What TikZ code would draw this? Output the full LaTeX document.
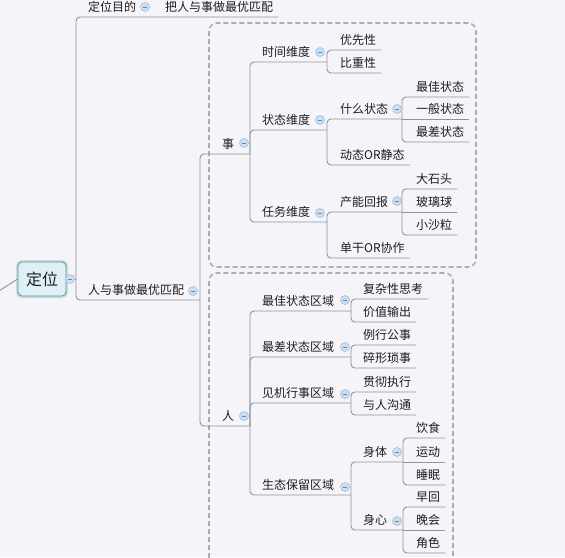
\documentclass[tikz,border=0pt]{standalone}
\usepackage{fontspec}
\setmainfont{Noto Sans CJK SC}
\usetikzlibrary{calc}

\definecolor{paper}{RGB}{245,245,249}
\definecolor{ink}{RGB}{30,30,30}
\definecolor{linegray}{RGB}{145,145,152}
\definecolor{boxgray}{RGB}{172,172,180}
\definecolor{foldfill}{RGB}{205,222,240}
\definecolor{foldline}{RGB}{160,190,222}
\definecolor{foldmark}{RGB}{95,135,190}
\definecolor{rootfill}{RGB}{222,240,246}
\definecolor{rootline}{RGB}{110,140,150}
\definecolor{rootglow}{RGB}{196,220,228}

\begin{document}
\begin{tikzpicture}[
  x=1pt, y=-1pt,
  font=\fontsize{12}{14}\selectfont,
  topic/.style={anchor=south west, inner sep=0pt,
    text height=10pt, text depth=5.5pt, text=ink},
  rootbox/.style={rectangle, rounded corners=4pt,
    draw=rootline, fill=rootfill, line width=0.8pt,
    preaction={draw=rootglow, line width=4pt},
    minimum width=48pt, minimum height=34pt,
    font=\fontsize{16}{18}\selectfont, text=ink},
  link/.style={draw=linegray, line width=0.9pt, rounded corners=4pt},
  fold/.style={circle, draw=foldline, fill=foldfill, line width=0.6pt,
    minimum size=9pt, inner sep=0pt,
    path picture={\draw[foldmark, line width=0.9pt]
      ([xshift=-2.4pt]path picture bounding box.center) --
      ([xshift=2.4pt]path picture bounding box.center);}},
  boundary/.style={draw=boxgray, line width=1.6pt,
    dash pattern=on 5pt off 3pt, rounded corners=8pt}
]

\fill[paper] (0,0) rectangle (565,557);
\useasboundingbox (0,0) rectangle (565,557);

% boundaries
\draw[boundary] (209,23) rectangle (476,267);
\draw[boundary] (209,273) rectangle (453,580);

% root
\node[rootbox] (dingwei) at (42,279) {定位};
\coordinate (offleft) at (-1,291);

% branch points
\coordinate (dingwei-t) at (76,279);
\coordinate (mubiao-t) at (155,17);
\coordinate (renshi-t) at (200,300);
\coordinate (shi-t) at (250,154);
\coordinate (ren-t) at (250,426);
\coordinate (shijian-t) at (327,62);
\coordinate (zhuangtai-t) at (327,130);
\coordinate (shenme-t) at (402,119);
\coordinate (renwu-t) at (327,222);
\coordinate (channeng-t) at (402,212);
\coordinate (zuijia-t) at (351,311);
\coordinate (zuicha-t) at (351,357);
\coordinate (jianji-t) at (351,403);
\coordinate (shengtai-t) at (351,495);
\coordinate (shenti-t) at (403,462);
\coordinate (shenxin-t) at (403,530);

% topics
\node[topic] (mubiao) at (88,17) {定位目的};
\node[topic] (pipei) at (165,17) {把人与事做最优匹配};
\node[topic] (renshi) at (88,300) {人与事做最优匹配};
\node[topic] (shi) at (222,154) {事};
\node[topic] (ren) at (222,426) {人};

\node[topic] (shijian) at (262,62) {时间维度};
\node[topic] (youxian) at (340,50) {优先性};
\node[topic] (bizhong) at (340,73) {比重性};
\node[topic] (zhuangtai) at (262,130) {状态维度};
\node[topic] (shenme) at (340,119) {什么状态};
\node[topic] (zuijiazt) at (416,97) {最佳状态};
\node[topic] (yiban) at (416,119) {一般状态};
\node[topic] (zuichazt) at (416,142) {最差状态};
\node[topic] (dongtai) at (340,165) {动态OR静态};
\node[topic] (renwu) at (262,222) {任务维度};
\node[topic] (channeng) at (340,212) {产能回报};
\node[topic] (dashitou) at (416,189) {大石头};
\node[topic] (boliqiu) at (416,212) {玻璃球};
\node[topic] (xiaosha) at (416,235) {小沙粒};
\node[topic] (dangan) at (340,258) {单干OR协作};

\node[topic] (zuijia) at (262,311) {最佳状态区域};
\node[topic] (fuza) at (363,299) {复杂性思考};
\node[topic] (jiazhi) at (363,322) {价值输出};
\node[topic] (zuicha) at (262,357) {最差状态区域};
\node[topic] (lixing) at (363,345) {例行公事};
\node[topic] (suixing) at (363,368) {碎形琐事};
\node[topic] (jianji) at (262,403) {见机行事区域};
\node[topic] (guanche) at (363,392) {贯彻执行};
\node[topic] (goutong) at (363,415) {与人沟通};
\node[topic] (shengtai) at (262,495) {生态保留区域};
\node[topic] (shenti) at (363,462) {身体};
\node[topic] (yinshi) at (416,438) {饮食};
\node[topic] (yundong) at (416,462) {运动};
\node[topic] (shuimian) at (416,485) {睡眠};
\node[topic] (shenxin) at (363,530) {身心};
\node[topic] (zaohui) at (416,507) {早回};
\node[topic] (wanhui) at (416,530) {晚会};
\node[topic] (jiaose) at (416,553) {角色};

% connectors
\draw[link] (offleft) -- (dingwei.west);
\draw[link] (dingwei.east) -- (dingwei-t);
\draw[link] (dingwei-t) |- (mubiao-t) -- ([xshift=5pt]pipei.south east);
\draw[link] (dingwei-t) |- (renshi-t);
\draw[link] (renshi-t) |- (shi-t);
\draw[link] (renshi-t) |- (ren-t);

\draw[link] (shi-t) |- (shijian-t);
\draw[link] (shi-t) |- (zhuangtai-t);
\draw[link] (shi-t) |- (renwu-t);
\draw[link] (shijian-t) |- ([xshift=5pt]youxian.south east);
\draw[link] (shijian-t) |- ([xshift=5pt]bizhong.south east);
\draw[link] (zhuangtai-t) |- (shenme-t);
\draw[link] (zhuangtai-t) |- ([xshift=5pt]dongtai.south east);
\draw[link] (shenme-t) |- ([xshift=5pt]zuijiazt.south east);
\draw[link] (shenme-t) -- ([xshift=5pt]yiban.south east);
\draw[link] (shenme-t) |- ([xshift=5pt]zuichazt.south east);
\draw[link] (renwu-t) |- (channeng-t);
\draw[link] (renwu-t) |- ([xshift=5pt]dangan.south east);
\draw[link] (channeng-t) |- ([xshift=5pt]dashitou.south east);
\draw[link] (channeng-t) -- ([xshift=5pt]boliqiu.south east);
\draw[link] (channeng-t) |- ([xshift=5pt]xiaosha.south east);

\draw[link] (ren-t) |- (zuijia-t);
\draw[link] (ren-t) |- (zuicha-t);
\draw[link] (ren-t) |- (jianji-t);
\draw[link] (ren-t) |- (shengtai-t);
\draw[link] (zuijia-t) |- ([xshift=5pt]fuza.south east);
\draw[link] (zuijia-t) |- ([xshift=5pt]jiazhi.south east);
\draw[link] (zuicha-t) |- ([xshift=5pt]lixing.south east);
\draw[link] (zuicha-t) |- ([xshift=5pt]suixing.south east);
\draw[link] (jianji-t) |- ([xshift=5pt]guanche.south east);
\draw[link] (jianji-t) |- ([xshift=5pt]goutong.south east);
\draw[link] (shengtai-t) |- (shenti-t);
\draw[link] (shengtai-t) |- (shenxin-t);
\draw[link] (shenti-t) |- ([xshift=5pt]yinshi.south east);
\draw[link] (shenti-t) -- ([xshift=5pt]yundong.south east);
\draw[link] (shenti-t) |- ([xshift=5pt]shuimian.south east);
\draw[link] (shenxin-t) |- ([xshift=5pt]zaohui.south east);
\draw[link] (shenxin-t) -- ([xshift=5pt]wanhui.south east);
\draw[link] (shenxin-t) |- ([xshift=5pt]jiaose.south east);

% fold marks
\node[fold] (dingwei-f) at (70,279) {};
\node[fold] (mubiao-f) at ($(mubiao-t)+(-10,-10)$) {};
\node[fold] (renshi-f) at ($(renshi-t)+(-7,-9)$) {};
\node[fold] (shi-f) at ($(shi-t)+(-6,-11)$) {};
\node[fold] (ren-f) at ($(ren-t)+(-6,-10)$) {};
\node[fold] (shijian-f) at ($(shijian-t)+(-7,-10)$) {};
\node[fold] (zhuangtai-f) at ($(zhuangtai-t)+(-7,-10)$) {};
\node[fold] (shenme-f) at ($(shenme-t)+(-5,-10)$) {};
\node[fold] (renwu-f) at ($(renwu-t)+(-7,-9)$) {};
\node[fold] (channeng-f) at ($(channeng-t)+(-5,-11)$) {};
\node[fold] (zuijia-f) at ($(zuijia-t)+(-6,-11)$) {};
\node[fold] (zuicha-f) at ($(zuicha-t)+(-6,-10)$) {};
\node[fold] (jianji-f) at ($(jianji-t)+(-6,-9)$) {};
\node[fold] (shengtai-f) at ($(shengtai-t)+(-6,-8)$) {};
\node[fold] (shenti-f) at ($(shenti-t)+(-6,-10)$) {};
\node[fold] (shenxin-f) at ($(shenxin-t)+(-6,-9)$) {};

\end{tikzpicture}
\end{document}
